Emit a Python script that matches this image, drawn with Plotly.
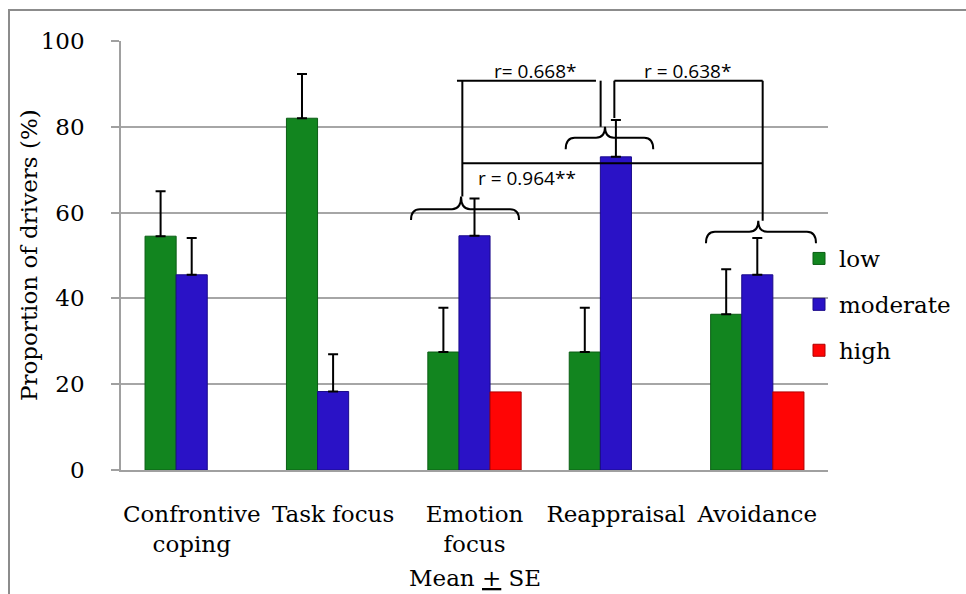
import plotly.graph_objects as go

# ---------------- data ----------------
categories = ["Confrontive<br>coping", "Task focus", "Emotion<br>focus", "Reappraisal", "Avoidance"]
low = [54.5, 82.0, 27.5, 27.5, 36.3]
low_se = [10.5, 10.3, 10.3, 10.3, 10.5]
moderate = [45.5, 18.3, 54.6, 73.0, 45.5]
moderate_se = [8.6, 8.7, 8.7, 8.6, 8.6]
high = [None, None, 18.2, None, 18.2]
series_names = ["low", "moderate", "high"]
y_ticks = [0, 20, 40, 60, 80, 100]

# correlation annotations (text, x in category units, y in value units)
corr_labels = [("r= 0.668*", 2.425, 92.9), ("r = 0.638*", 3.506, 92.9), ("r = 0.964**", 2.371, 68.0)]

# ---------------- styling ----------------
GREEN, GREEN_D = "#12851F", "#0B5E15"
BLUE, BLUE_D = "#2A12C6", "#1A0A8A"
RED, RED_D = "#FF0505", "#B00000"
SERIF = "DejaVu Serif"
SANS = "Open Sans"
W, H = 966, 594
ML, MR, MT, MB = 121, 138, 41, 124
PW, PH = W - ML - MR, H - MT - MB
N = len(categories)
FS = 23


def xp(i):
    return (i + 0.5) / N


def yp(v):
    return v / 100.0


def err(vals):
    return dict(type="data", symmetric=False, array=vals, arrayminus=[0] * len(vals),
                color="black", thickness=2, width=5)


fig = go.Figure()
fig.add_trace(go.Bar(name=series_names[0], x=categories, y=low, error_y=err(low_se),
                     marker=dict(color=GREEN, line=dict(color=GREEN_D, width=1))))
fig.add_trace(go.Bar(name=series_names[1], x=categories, y=moderate, error_y=err(moderate_se),
                     marker=dict(color=BLUE, line=dict(color=BLUE_D, width=1))))
fig.add_trace(go.Bar(name=series_names[2], x=categories, y=high,
                     marker=dict(color=RED, line=dict(color=RED_D, width=1))))

shapes = []
# outer border of the figure box
shapes.append(dict(type="rect", xref="paper", yref="paper",
                   x0=(9 - ML) / PW, x1=(W + 10 - ML) / PW,
                   y0=(MT + PH - (H + 10)) / PH, y1=(MT + PH - 10) / PH,
                   line=dict(color="#8C8C8C", width=2), fillcolor="rgba(0,0,0,0)", layer="below"))


def brace(x0, x1, xm, ye, yb, yt):
    d = 9.0 / PW
    X0, X1, XM = xp(x0), xp(x1), xp(xm)
    YE, YB, YT = yp(ye), yp(yb), yp(yt)
    path = (f"M{X0},{YE} Q{X0},{YB} {X0 + d},{YB} L{XM - d},{YB} Q{XM},{YB} {XM},{YT} "
            f"Q{XM},{YB} {XM + d},{YB} L{X1 - d},{YB} Q{X1},{YB} {X1},{YE}")
    return dict(type="path", xref="paper", yref="paper", path=path,
                line=dict(color="black", width=2))


def seg(xa, ya, xb, yb_):
    return dict(type="line", xref="paper", yref="paper", x0=xp(xa), y0=yp(ya), x1=xp(xb), y1=yp(yb_),
                line=dict(color="black", width=2))


shapes += [
    brace(1.551, 2.315, 1.905, 58.3, 60.8, 63.75),
    brace(2.645, 3.264, 2.923, 74.75, 77.46, 80.0),
    brace(3.637, 4.415, 4.007, 52.84, 55.55, 58.1),
    seg(1.914, 90.75, 1.914, 63.75),
    seg(1.876, 90.75, 2.859, 90.75),
    seg(2.892, 90.75, 2.892, 80.0),
    seg(2.989, 90.75, 2.989, 82.05),
    seg(2.989, 90.75, 4.038, 90.75),
    seg(4.038, 90.75, 4.038, 58.1),
    seg(1.914, 71.5, 4.038, 71.5),
]

annotations = []
for txt, cx, cy in corr_labels:
    annotations.append(dict(text=txt, xref="paper", yref="paper", x=xp(cx), y=yp(cy),
                            showarrow=False, xanchor="center", yanchor="middle",
                            font=dict(family=SANS, size=19, color="black")))
annotations.append(dict(text="Proportion of drivers (%)", xref="paper", yref="paper",
                        x=(29 - ML) / PW, y=(MT + PH - 255) / PH, textangle=-90,
                        showarrow=False, xanchor="center", yanchor="middle",
                        font=dict(family=SERIF, size=FS, color="black")))
annotations.append(dict(text="Mean <u>+</u> SE", xref="paper", yref="paper",
                        x=(475 - ML) / PW, y=(MT + PH - 578) / PH,
                        showarrow=False, xanchor="center", yanchor="middle",
                        font=dict(family=SERIF, size=FS, color="black")))

fig.update_layout(
    width=W, height=H,
    margin=dict(l=ML, r=MR, t=MT, b=MB, autoexpand=False),
    paper_bgcolor="white", plot_bgcolor="white",
    barmode="group", bargap=0.34, bargroupgap=0,
    showlegend=True,
    legend=dict(x=(799 - ML) / PW, y=(MT + PH - 237) / PH, xanchor="left", yanchor="top",
                font=dict(family=SERIF, size=FS, color="black"),
                bgcolor="rgba(0,0,0,0)", traceorder="grouped", tracegroupgap=13,
                itemclick=False),
    shapes=shapes,
    annotations=annotations,
    xaxis=dict(type="category", showgrid=False, showline=True, linecolor="#A0A0A0", linewidth=1.5,
               ticks="", tickfont=dict(family=SERIF, size=FS, color="black"),
               ticklabelstandoff=23, fixedrange=True),
    yaxis=dict(range=[0, 100], tickvals=y_ticks, showgrid=True, gridcolor="#A6A6A6", gridwidth=1.5,
               showline=True, linecolor="#A0A0A0", linewidth=1.5, ticks="outside", ticklen=8,
               tickcolor="#A0A0A0", tickwidth=1.5, zeroline=False,
               tickfont=dict(family=SERIF, size=FS, color="black"), ticklabelstandoff=22,
               fixedrange=True),
)
for i, tr in enumerate(fig.data):
    tr.legendgroup = series_names[i]

fig.write_html("out.html", config={"displayModeBar": False},
               post_script="document.body.style.margin='0';")
